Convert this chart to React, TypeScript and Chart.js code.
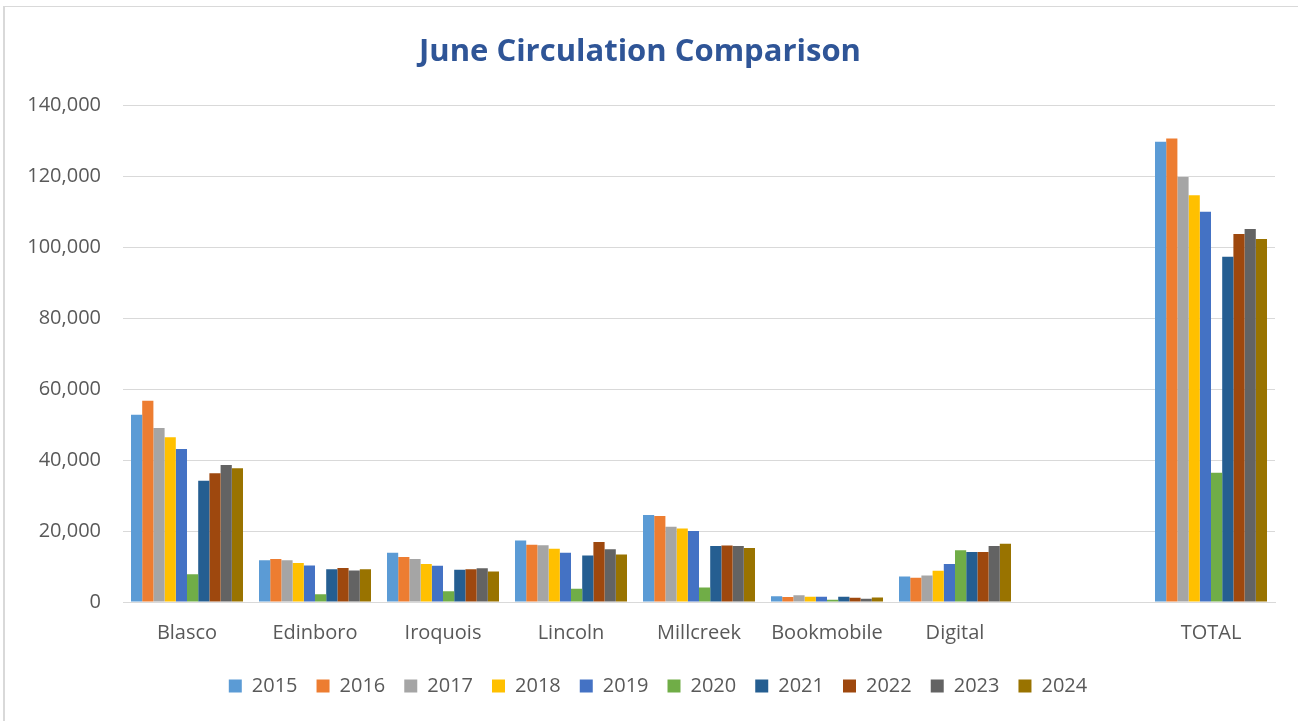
import React, { useEffect, useRef } from "react";
import { Chart, registerables } from "chart.js";

Chart.register(...registerables);

const categories = ["Blasco", "Edinboro", "Iroquois", "Lincoln", "Millcreek", "Bookmobile", "Digital", "", "TOTAL"];
const years = ["2015", "2016", "2017", "2018", "2019", "2020", "2021", "2022", "2023", "2024"];

const v2015 = [52800, 11800, 13900, 17300, 24500, 1600, 7200, null, 129700];
const v2016 = [56700, 12100, 12700, 16100, 24200, 1400, 6800, null, 130600];
const v2017 = [49000, 11800, 12100, 16000, 21200, 1900, 7500, null, 119800];
const v2018 = [46400, 11000, 10700, 15000, 20700, 1500, 8800, null, 114600];
const v2019 = [43100, 10300, 10200, 13900, 20000, 1500, 10700, null, 110000];
const v2020 = [7800, 2200, 3000, 3700, 4100, 650, 14600, null, 36400];
const v2021 = [34200, 9200, 9100, 13100, 15800, 1500, 14100, null, 97300];
const v2022 = [36300, 9600, 9200, 16900, 15900, 1200, 14100, null, 103700];
const v2023 = [38600, 8900, 9500, 14900, 15800, 950, 15800, null, 105100];
const v2024 = [37700, 9200, 8600, 13400, 15200, 1300, 16400, null, 102300];

const seriesValues = [v2015, v2016, v2017, v2018, v2019, v2020, v2021, v2022, v2023, v2024];
const colors = ["#5B9BD5", "#ED7D31", "#A5A5A5", "#FFC000", "#4472C4", "#70AD47", "#255E91", "#9E480E", "#636363", "#997300"];

const legendShift = {
  id: "legendShift",
  afterLayout(chart: any) {
    const lg = chart.legend;
    if (!lg) return;
    lg.left += 18;
    lg.right += 18;
    lg.top -= 7;
    lg.bottom -= 7;
  },
};

export default function App() {
  const ref = useRef<HTMLCanvasElement | null>(null);
  useEffect(() => {
    document.body.style.margin = "0";
    if (!ref.current) return;
    const chart = new Chart(ref.current, {
      type: "bar",
      data: {
        labels: categories,
        datasets: years.map((y, i) => ({
          label: y,
          data: seriesValues[i],
          backgroundColor: colors[i],
          borderWidth: 0,
          categoryPercentage: 0.875,
          barPercentage: 1.0,
        })),
      },
      plugins: [legendShift],
      options: {
        animation: false,
        responsive: false,
        maintainAspectRatio: false,
        layout: { padding: { left: 0, right: 23, top: 0, bottom: 8 } },
        plugins: {
          title: {
            display: true,
            text: "June Circulation Comparison",
            color: "#2F5597",
            font: { family: "Open Sans", size: 31, weight: "bold" },
            padding: { top: 27, bottom: 34 },
          },
          legend: {
            position: "bottom",
            labels: {
              color: "#595959",
              font: { family: "Open Sans", size: 20 },
              boxWidth: 13,
              boxHeight: 13,
              padding: 19,
            },
          },
          tooltip: { enabled: false },
        },
        scales: {
          x: {
            grid: { display: false, drawTicks: false },
            border: { display: true, color: "#D9D9D9", width: 1 },
            ticks: { color: "#595959", font: { family: "Open Sans", size: 20 }, padding: 19 },
          },
          y: {
            min: 0,
            max: 140000,
            ticks: {
              stepSize: 20000,
              color: "#595959",
              font: { family: "Open Sans", size: 20 },
              padding: 22,
              callback: (v: any) => Number(v).toLocaleString("en-US"),
            },
            grid: { color: "#D9D9D9", drawTicks: false, lineWidth: 1 },
            border: { display: false },
            afterFit: (s: any) => { s.width = 118; },
          },
        },
      },
    });
    return () => chart.destroy();
  }, []);
  return (
    <div style={{ position: "absolute", left: 3, top: 6, width: 1300, height: 720, borderLeft: "2px solid #D9D9D9", borderTop: "1px solid #D9D9D9", background: "#fff" }}>
      <canvas ref={ref} width={1293} height={714} style={{ display: "block" }} />
    </div>
  );
}
